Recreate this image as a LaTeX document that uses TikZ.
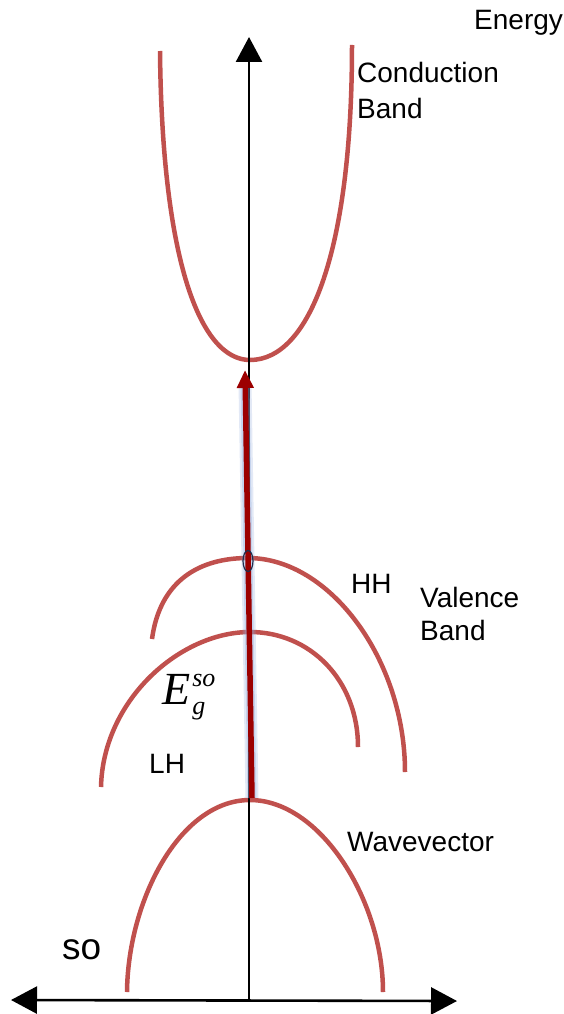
\documentclass[tikz,border=0pt]{standalone}
\usepackage{fontspec}
\setmainfont{Liberation Sans}
\newfontfamily\tnr{Liberation Serif}
\usetikzlibrary{arrows.meta,calc,shapes.geometric}
\definecolor{bandred}{HTML}{C0504D}
\definecolor{darkred}{HTML}{9C0000}
\definecolor{glow}{HTML}{8EA9DB}
\definecolor{navy}{HTML}{1F2D4D}
\tikzset{
  band/.style={draw=bandred, line width=4.5pt, line cap=butt},
  axis/.style={draw=black, line width=2.6pt},
  lbl/.style={font=\fontsize{28}{33}\selectfont, inner sep=0pt, anchor=base west},
}
\begin{document}
\begin{tikzpicture}[x=1pt,y=-1pt]
\useasboundingbox (0,0) rectangle (563,1014);
% bands
\draw[band] (160,51) .. controls (162,260) and (200,360) .. (250,360)
                     .. controls (310,360) and (352,250) .. (352,45);
\draw[band] (152,639) .. controls (160,580) and (200,558) .. (248,558)
                      .. controls (330,558) and (405,660) .. (405,772);
\draw[band] (101,787) .. controls (103,700) and (180,632) .. (250,632)
                      .. controls (310,632) and (358,680) .. (358,747);
\draw[band] (127,992) .. controls (128,900) and (180,800) .. (250,800)
                      .. controls (320,800) and (383,900) .. (383,992);
% axes
\coordinate (o) at (249,1000);
\coordinate (ytop) at (249,37);
\coordinate (xl) at (11,1000);
\coordinate (xr) at (457,1001);
\draw[axis, -{Triangle[length=25pt,width=26pt]}] (o) -- (ytop);
\draw[axis, {Triangle[length=26pt,width=27pt]}-{Triangle[length=26pt,width=27pt]}] (xl) -- (xr);
% transition arrow
\coordinate (vb) at (252,798);
\coordinate (cb) at (245,370);
\draw[glow, line width=13pt, opacity=0.25] (vb) -- ($(cb)+(0,14)$);
\draw[glow, line width=9pt, opacity=0.35] (vb) -- ($(cb)+(0,14)$);
\draw[darkred, line width=5.5pt, -{Triangle[length=18pt,width=16pt]}] (vb) -- (cb);
\node[draw=navy, line width=1.2pt, ellipse, minimum width=10pt, minimum height=21pt, inner sep=0pt] (dot) at (248,561) {};
% labels
\node[lbl] (energy) at (474,30) {Energy};
\node[lbl] (cond) at (357,83) {Conduction};
\node[lbl] (cband) at (357,118) {Band};
\node[lbl] (hh) at (351,593) {HH};
\node[lbl] (val) at (420,607) {Valence};
\node[lbl] (vband) at (420,640) {Band};
\node[lbl] (lh) at (149,773) {LH};
\node[lbl] (wave) at (347,851) {Wavevector};
\node[font=\fontsize{37}{40}\selectfont, inner sep=0pt, anchor=base west] (so) at (62,959) {so};
\node[inner sep=0pt, anchor=base west] (eg) at (162,704) {\tnr\itshape\fontsize{46}{50}\selectfont E\kern2pt\rlap{\raisebox{18pt}{\fontsize{26}{26}\selectfont so}}\raisebox{-10pt}{\fontsize{26}{26}\selectfont g}};
\end{tikzpicture}
\end{document}
